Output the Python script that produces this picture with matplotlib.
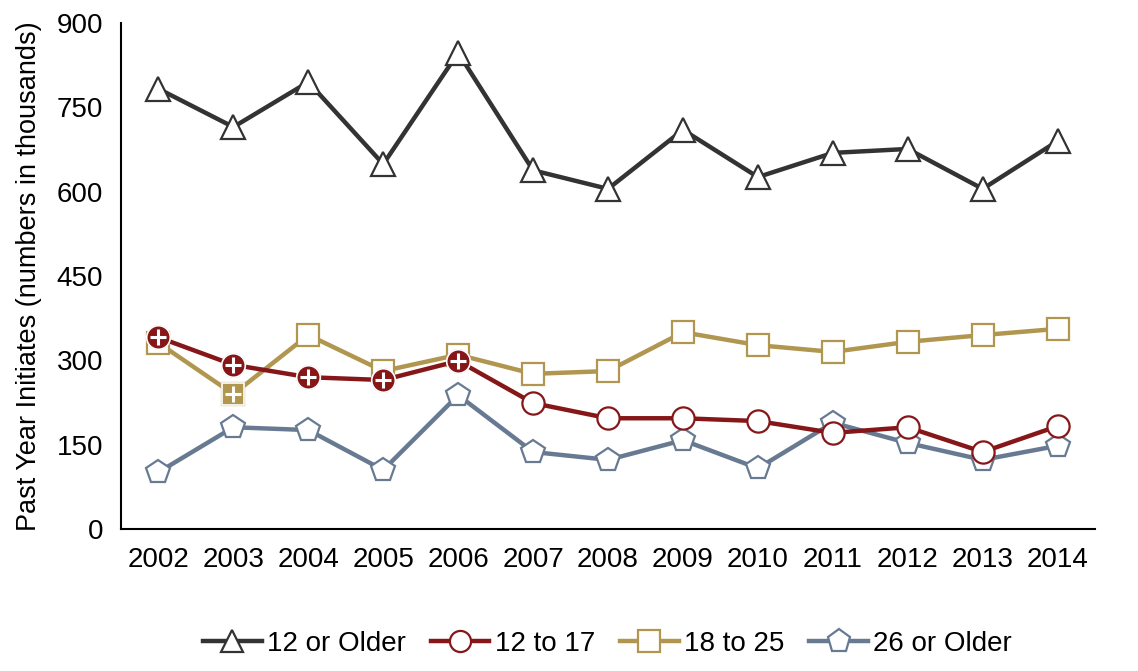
import numpy as np
import matplotlib
matplotlib.use("Agg")
import matplotlib.pyplot as plt

plt.rcParams['font.family'] = ['Liberation Sans', 'DejaVu Sans']

years = [2002, 2003, 2004, 2005, 2006, 2007, 2008, 2009, 2010, 2011, 2012, 2013, 2014]

older12 = [783, 715, 795, 649, 847, 638, 605, 710, 626, 669, 676, 605, 690]
age12_17 = [341, 292, 270, 265, 299, 224, 197, 197, 192, 171, 181, 137, 183]
age18_25 = [331, 240, 345, 281, 310, 276, 281, 350, 327, 315, 333, 345, 356]
older26 = [101, 181, 176, 105, 238, 137, 123, 158, 108, 189, 153, 123, 148]

# significant difference from 2014 (filled marker with a plus)
sig12_17 = [True, True, True, True, True, False, False, False, False, False, False, False, False]
sig18_25 = [False, True, False, False, False, False, False, False, False, False, False, False, False]

labels = ['12 or Older', '12 to 17', '18 to 25', '26 or Older']
colors = ['#333333', '#861719', '#B0964F', '#687A92']
markers = ['^', 'o', 's', 'p']
series = [older12, age12_17, age18_25, older26]
zorders = [5, 4, 3, 2]
sizes = [17, 16, 16, 18]

fig = plt.figure(figsize=(11.38, 6.71), dpi=100)
ax = fig.add_axes([0.1063, 0.2116, 0.856, 0.7541])

handles = []
for vals, lab, col, mk, z, ms in zip(series, labels, colors, markers, zorders, sizes):
    h, = ax.plot(years, vals, color=col, lw=3.2, marker=mk, markersize=ms,
                 markerfacecolor='white', markeredgecolor=col, markeredgewidth=1.6,
                 label=lab, zorder=z)
    handles.append(h)

# filled markers with plus for significant points
for vals, sig, col, mk, z, ms in [(age12_17, sig12_17, colors[1], 'o', 4, 17),
                                  (age18_25, sig18_25, colors[2], 's', 3, 16)]:
    xs = [y for y, s in zip(years, sig) if s]
    vs = [v for v, s in zip(vals, sig) if s]
    ax.plot(xs, vs, ls='none', marker=mk, markersize=ms, markerfacecolor=col,
            markeredgecolor='white', markeredgewidth=1.2, zorder=z + 0.1)
    ax.plot(xs, vs, ls='none', marker='+', markersize=11, markeredgecolor='white',
            markeredgewidth=2.2, zorder=z + 0.2)

ax.set_xlim(2001.5, 2014.5)
ax.set_ylim(0, 900)
ax.set_xticks(years)
ax.set_yticks(np.arange(0, 901, 150))
ax.tick_params(axis='both', length=0, labelsize=20)
ax.tick_params(axis='y', pad=13)
ax.tick_params(axis='x', pad=13)
for s in ['top', 'right']:
    ax.spines[s].set_visible(False)
for s in ['left', 'bottom']:
    ax.spines[s].set_linewidth(1.5)
    ax.spines[s].set_color('black')

ax.set_ylabel('Past Year Initiates (numbers in thousands)', fontsize=19.5)
ax.yaxis.set_label_coords(-0.081, 0.5)

fig.legend(handles=handles, loc='center', bbox_to_anchor=(0.534, 0.04), ncol=4,
           frameon=False, fontsize=20, handlelength=2.1, handletextpad=0.2,
           columnspacing=0.9, markerscale=0.95)

fig.savefig('out.png', dpi=100)
